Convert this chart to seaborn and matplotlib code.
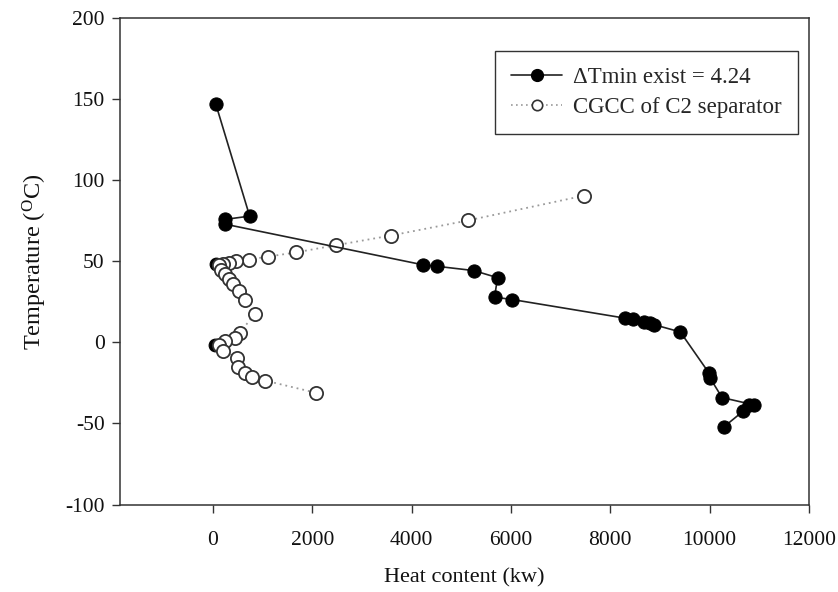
import numpy as np
import pandas as pd
import matplotlib
matplotlib.use("Agg")
import matplotlib.pyplot as plt
import seaborn as sns
from matplotlib.lines import Line2D

# Data
dt_x = [60, 740, 250, 250, 4220, 4520, 5250, 5730, 5670, 6030, 8300, 8460, 8680, 8800, 8880,
        9410, 9990, 10010, 10250, 10890, 10790, 10670, 10290]
dt_y = [147, 78, 76, 73, 48, 47, 44.4, 40, 28, 26.5, 15, 14.5, 12.5, 12, 11,
        6.5, -19, -22, -34, -38.5, -38.5, -42.5, -52]
dt_iso_x = [70, 40]
dt_iso_y = [48.5, -1.5]

cg_x = [7480, 5130, 3580, 2470, 1670, 1110, 720, 460, 320, 210, 120, 170, 250, 330, 400, 520,
        640, 840, 540, 440, 240, 120, 200, 480, 500, 640, 780, 1050, 2070]
cg_y = [90.7, 75.3, 66, 60, 55.6, 53, 51.2, 50, 49, 48.5, 48, 45, 42, 39, 36, 32,
        26.5, 17.5, 6, 3, 1.2, -1.4, -5, -9.3, -15.4, -19, -21.6, -23.5, -31]

label_dt = "\u0394Tmin exist = 4.24"
label_cg = "CGCC of C2 separator"

sns.set_style("white")
plt.rcParams['font.family'] = ['Liberation Serif', 'DejaVu Serif']
plt.rcParams['mathtext.fontset'] = 'custom'
plt.rcParams['mathtext.rm'] = 'Liberation Serif'
plt.rcParams['axes.unicode_minus'] = False

fig = plt.figure(figsize=(8.38, 5.92), dpi=100)
ax = fig.add_axes([0.1432, 0.1478, 0.8222, 0.821])

ink = "#222222"
sns.lineplot(x=cg_x, y=cg_y, sort=False, ax=ax, color="#9a9a9a", linestyle=(0, (1, 2.2)),
             linewidth=1.3, marker='o', markersize=9.5, markerfacecolor='white',
             markeredgecolor="#333333", markeredgewidth=1.3, estimator=None, zorder=2)
sns.lineplot(x=dt_x, y=dt_y, sort=False, ax=ax, color=ink, linewidth=1.2,
             marker='o', markersize=9.5, markerfacecolor='black', markeredgecolor='black',
             estimator=None, zorder=3)
sns.scatterplot(x=dt_iso_x, y=dt_iso_y, ax=ax, color='black', s=85, edgecolor='black',
                zorder=1)

ax.set_xlim(-1870, 12000)
ax.set_ylim(-100, 200)
ax.set_xticks(np.arange(0, 12001, 2000))
ax.set_yticks(np.arange(-100, 201, 50))
ax.tick_params(bottom=True, left=True, top=False, right=False,
               direction='out', length=6, width=1, color="#333333", labelsize=15.5,
               labelcolor="#111111")
ax.tick_params(axis='x', pad=13)
ax.tick_params(axis='y', pad=5)
for s in ax.spines.values():
    s.set_color("#333333")
    s.set_linewidth(1.1)

ax.set_xlabel("Heat content (kw)", fontsize=16, labelpad=13, color="#111111")
ax.set_ylabel(r"Temperature ($\mathregular{^{O}}$C)", fontsize=17.5, labelpad=12, color="#111111")

handles = [
    Line2D([], [], color=ink, linewidth=1.2, marker='o', markersize=8.5,
           markerfacecolor='black', markeredgecolor='black'),
    Line2D([], [], color="#9a9a9a", linewidth=1.2, linestyle=(0, (1, 2)), marker='o',
           markersize=7.5, markerfacecolor='white', markeredgecolor='#333333', markeredgewidth=1.2),
]
leg = ax.legend(handles, [label_dt, label_cg], loc='upper right',
                bbox_to_anchor=(0.984, 0.933), borderaxespad=0, fontsize=16.5,
                frameon=True, fancybox=False, edgecolor='#333333', framealpha=1,
                handlelength=2.2, handletextpad=0.5, labelspacing=0.37,
                borderpad=0.7)
leg.get_frame().set_linewidth(1.0)

fig.savefig("out.png", dpi=100)
